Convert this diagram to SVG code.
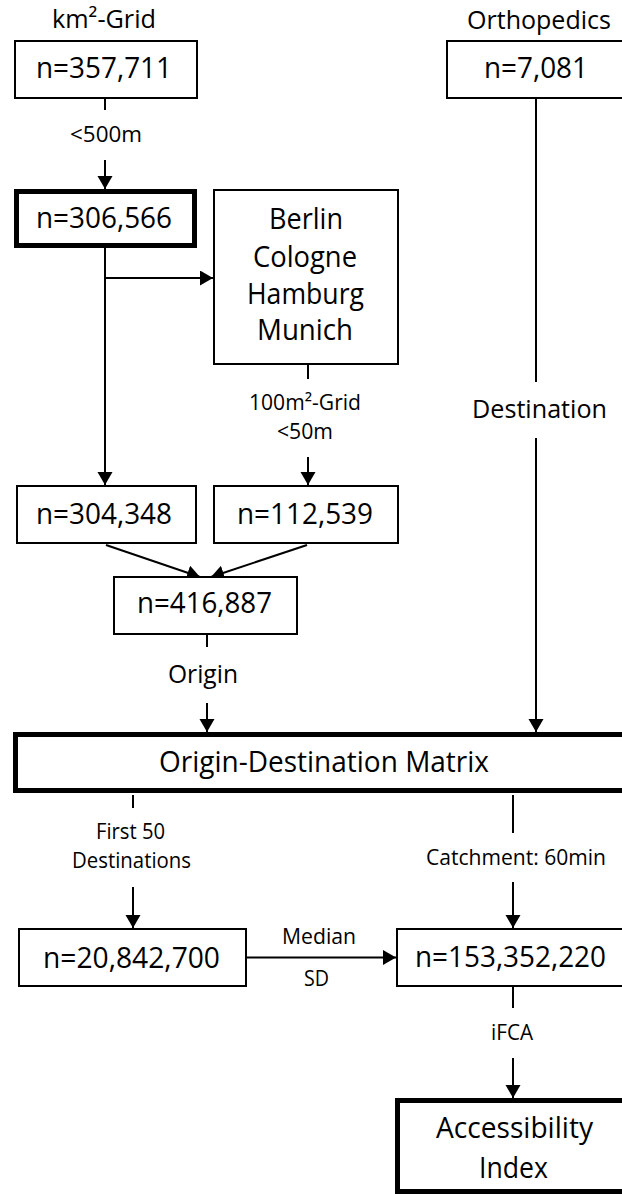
<svg xmlns="http://www.w3.org/2000/svg" width="622" height="1194" viewBox="0 0 622 1194">
<style>
text{font-family:"Open Sans","Noto Sans","Liberation Sans",sans-serif;fill:#000}
.big{font-size:29px}
.lab{font-size:26px}
.sm{font-size:21.5px}
.box{fill:#fff;stroke:#000;stroke-width:2}
.thick{fill:#fff;stroke:#000;stroke-width:5}
.c line{stroke:#000;stroke-width:2;fill:none}
</style>
<defs>
<marker id="ah" markerUnits="userSpaceOnUse" markerWidth="14" markerHeight="16" refX="13" refY="7.5" orient="auto">
<path d="M0,0 L13,7.5 L0,15 Z" fill="#000"/>
</marker>
</defs>
<rect width="622" height="1194" fill="#fff"/>
<g class="c" id="connectors">
<line x1="105" y1="99" x2="105" y2="110"/>
<line x1="105" y1="160" x2="105" y2="189" marker-end="url(#ah)"/>
<line x1="105" y1="248" x2="105" y2="485" marker-end="url(#ah)"/>
<line x1="105" y1="278" x2="213" y2="278" marker-end="url(#ah)"/>
<line x1="308" y1="365" x2="308" y2="379"/>
<line x1="308" y1="457" x2="308" y2="485" marker-end="url(#ah)"/>
<line x1="536" y1="99" x2="536" y2="382"/>
<line x1="536" y1="438" x2="536" y2="732" marker-end="url(#ah)"/>
<line x1="106" y1="545" x2="200" y2="577" marker-end="url(#ah)"/>
<line x1="307" y1="545" x2="211" y2="577" marker-end="url(#ah)"/>
<line x1="207" y1="635" x2="207" y2="647"/>
<line x1="207" y1="703" x2="207" y2="732" marker-end="url(#ah)"/>
<line x1="133" y1="795" x2="133" y2="808"/>
<line x1="133" y1="887" x2="133" y2="928" marker-end="url(#ah)"/>
<line x1="513" y1="795" x2="513" y2="833"/>
<line x1="513" y1="882" x2="513" y2="928" marker-end="url(#ah)"/>
<line x1="247" y1="957.5" x2="396" y2="957.5" marker-end="url(#ah)"/>
<line x1="513" y1="987" x2="513" y2="1008"/>
<line x1="513" y1="1058" x2="513" y2="1098" marker-end="url(#ah)"/>
</g>
<g id="labels">
<text class="sm" x="70" y="142" textLength="72" lengthAdjust="spacingAndGlyphs">&lt;500m</text>
<text class="sm" x="249" y="410" textLength="112" lengthAdjust="spacingAndGlyphs">100m²-Grid</text>
<text class="sm" x="277" y="439" textLength="56" lengthAdjust="spacingAndGlyphs">&lt;50m</text>
<text class="lab" x="472" y="418" textLength="135" lengthAdjust="spacingAndGlyphs">Destination</text>
<text class="lab" x="168" y="683" textLength="70" lengthAdjust="spacingAndGlyphs">Origin</text>
<text class="sm" x="96" y="839" textLength="69" lengthAdjust="spacingAndGlyphs">First 50</text>
<text class="sm" x="72" y="868" textLength="119" lengthAdjust="spacingAndGlyphs">Destinations</text>
<text class="sm" x="426" y="865" textLength="180" lengthAdjust="spacingAndGlyphs">Catchment: 60min</text>
<text class="sm" x="282" y="944" textLength="74" lengthAdjust="spacingAndGlyphs">Median</text>
<text class="sm" x="304" y="986" textLength="25" lengthAdjust="spacingAndGlyphs">SD</text>
<text class="sm" x="491" y="1040" textLength="42" lengthAdjust="spacingAndGlyphs">iFCA</text>
</g>
<g id="grid">
<text class="lab" x="52" y="28" textLength="104" lengthAdjust="spacingAndGlyphs">km²-Grid</text>
<rect class="box" x="15" y="41" width="182" height="57"/>
<text class="big" x="36" y="78" textLength="136" lengthAdjust="spacingAndGlyphs">n=357,711</text>
</g>
<g id="ortho">
<text class="lab" x="467" y="29" textLength="144" lengthAdjust="spacingAndGlyphs">Orthopedics</text>
<rect class="box" x="447" y="41" width="183" height="57"/>
<text class="big" x="484" y="78" textLength="104" lengthAdjust="spacingAndGlyphs">n=7,081</text>
</g>
<g id="n306">
<rect class="thick" x="16.5" y="191.5" width="178" height="54"/>
<text class="big" x="36" y="228" textLength="136" lengthAdjust="spacingAndGlyphs">n=306,566</text>
</g>
<g id="cities">
<rect class="box" x="214" y="190" width="184" height="174"/>
<text class="big" x="269" y="229" textLength="74" lengthAdjust="spacingAndGlyphs">Berlin</text>
<text class="big" x="253" y="267" textLength="104" lengthAdjust="spacingAndGlyphs">Cologne</text>
<text class="big" x="247" y="303.5" textLength="117" lengthAdjust="spacingAndGlyphs">Hamburg</text>
<text class="big" x="257" y="340" textLength="96" lengthAdjust="spacingAndGlyphs">Munich</text>
</g>
<g id="n304">
<rect class="box" x="17" y="486" width="179" height="57"/>
<text class="big" x="36" y="524" textLength="136" lengthAdjust="spacingAndGlyphs">n=304,348</text>
</g>
<g id="n112">
<rect class="box" x="214" y="486" width="184" height="57"/>
<text class="big" x="237" y="524" textLength="136" lengthAdjust="spacingAndGlyphs">n=112,539</text>
</g>
<g id="n416">
<rect class="box" x="114" y="577" width="183" height="57"/>
<text class="big" x="137" y="613" textLength="135" lengthAdjust="spacingAndGlyphs">n=416,887</text>
</g>
<g id="odm">
<rect class="thick" x="15.5" y="734.5" width="620" height="56"/>
<text class="big" x="159" y="772" textLength="330" lengthAdjust="spacingAndGlyphs">Origin-Destination Matrix</text>
</g>
<g id="n20">
<rect class="box" x="19" y="929" width="227" height="57"/>
<text class="big" x="43" y="968" textLength="177" lengthAdjust="spacingAndGlyphs">n=20,842,700</text>
</g>
<g id="n153">
<rect class="box" x="397" y="929" width="240" height="57"/>
<text class="big" x="415" y="967" textLength="191" lengthAdjust="spacingAndGlyphs">n=153,352,220</text>
</g>
<g id="access">
<rect class="thick" x="397.5" y="1100.5" width="240" height="91"/>
<text class="big" x="436" y="1138" textLength="157" lengthAdjust="spacingAndGlyphs">Accessibility</text>
<text class="big" x="479" y="1178" textLength="69" lengthAdjust="spacingAndGlyphs">Index</text>
</g>
</svg>
